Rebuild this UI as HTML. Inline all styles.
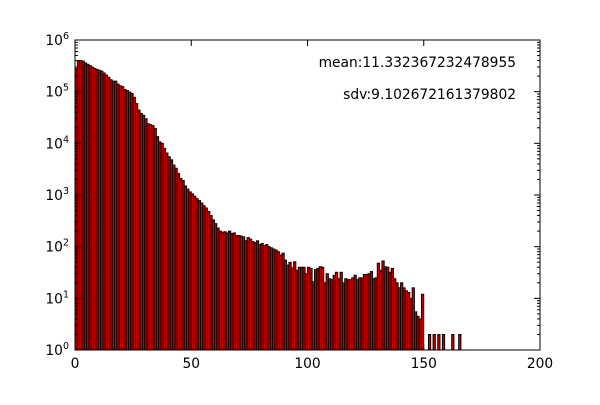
<!DOCTYPE html>
<html><head><meta charset="utf-8"><style>
body{margin:0;background:#fff;}
svg text{font-family:"DejaVu Sans","Liberation Sans",sans-serif;}
</style></head><body>
<svg id="chart" width="600" height="400" xmlns="http://www.w3.org/2000/svg">
<rect width="600" height="400" fill="#fff"/>
<g id="bars"></g>
<g id="axes"></g>
<text x="516" y="67" font-size="13.8" text-anchor="end">mean:11.332367232478955</text>
<text x="516" y="99" font-size="13.8" text-anchor="end">sdv:9.102672161379802</text>
</svg>
<script>
const binStarts=[];for(let i=0;i<170;i++)binStarts.push(i);
const counts=[
2.8e5,4e5,4e5,3.9e5,3.6e5,3.4e5,3.2e5,3e5,2.8e5,2.7e5,
2.6e5,2.5e5,2.3e5,2.1e5,1.9e5,1.7e5,1.6e5,1.6e5,1.4e5,1.3e5,
1.25e5,1.1e5,1.05e5,9.8e4,9.3e4,7.8e4,5.9e4,4.4e4,3.8e4,3.5e4,
3e4,2.4e4,2.3e4,2.2e4,1.95e4,1.35e4,1.07e4,1e4,8e3,6.5e3,
5.5e3,4.8e3,3.8e3,3.3e3,2.6e3,2.1e3,1.9e3,1.5e3,1.3e3,1.15e3,
1.05e3,950,850,780,700,620,560,480,400,330,
280,230,200,190,195,185,200,180,185,165,
165,160,155,130,150,140,125,120,130,110,
115,105,110,100,95,90,86,80,69,75,
55,44,50,39,51,35,40,40,40,30,
40,38,21,36,38,41,40,20,30,24,
23,28,32,24,32,20,24,23,23,25,
28,23,25,25,29,29,30,33,24,25,
48,35,53,41,40,32,38,24,20,16,
20,16,14,13,10,16,5.5,4.5,4,12,
0,0,2,0,2,0,2,0,2,0,
0,0,2,0,0,2,0,0,0,0];
const xTicks=[0,50,100,150,200];
const yExps=[0,1,2,3,4,5,6];
const L=75,R=540,T=40,B=350;
const xs=v=>L+(v/200)*(R-L);
const ys=v=>B-Math.log10(v)/6*(B-T);
const NS="http://www.w3.org/2000/svg";
const bars=document.getElementById('bars'),axes=document.getElementById('axes');
function mk(t,a,p){const e=document.createElementNS(NS,t);for(const k in a)e.setAttribute(k,a[k]);p.appendChild(e);return e;}
counts.forEach((c,i)=>{if(c<=1)return;
const y=ys(c);
const r=mk('rect',{x:xs(binStarts[i]),y:y,width:xs(1)-xs(0),height:B-y,fill:'#c00000',stroke:'#000','stroke-width':0.9},bars);


});
mk('rect',{x:L,y:T,width:R-L,height:B-T,fill:'none',stroke:'#000','stroke-width':1},axes);
xTicks.forEach(v=>{const x=xs(v);
mk('line',{x1:x,y1:B,x2:x,y2:B-6,stroke:'#000'},axes);
mk('line',{x1:x,y1:T,x2:x,y2:T+6,stroke:'#000'},axes);
const t=mk('text',{x:x,y:B+18,'font-size':13.8,'text-anchor':'middle'},axes);t.textContent=v;


});
yExps.forEach(e=>{const y=ys(Math.pow(10,e));
mk('line',{x1:L,y1:y,x2:L+6,y2:y,stroke:'#000'},axes);
mk('line',{x1:R,y1:y,x2:R-6,y2:y,stroke:'#000'},axes);
const t=mk('text',{x:L-6,y:y+5,'font-size':13.8,'text-anchor':'end'},axes);
t.innerHTML='10<tspan dy="-6" font-size="9.5">'+e+'</tspan>';


if(e<6){for(let m=2;m<10;m++){const yy=ys(m*Math.pow(10,e));
mk('line',{x1:L,y1:yy,x2:L+3,y2:yy,stroke:'#000'},axes);
mk('line',{x1:R,y1:yy,x2:R-3,y2:yy,stroke:'#000'},axes);}}
});
</script>
</body></html>
